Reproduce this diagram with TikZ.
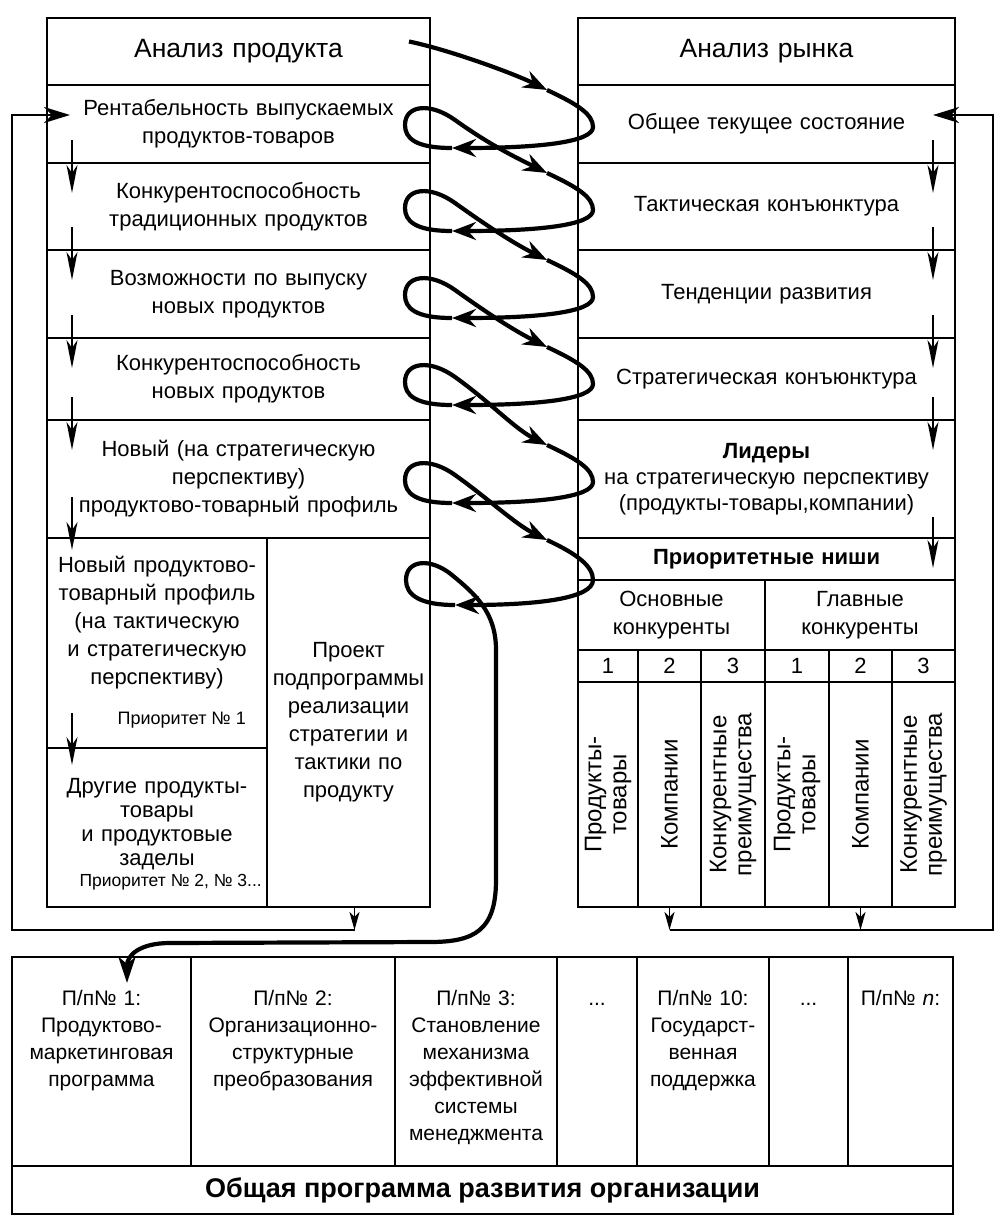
\documentclass[tikz,border=0pt]{standalone}
\usepackage{fontspec}
\setmainfont{Liberation Sans}
\usetikzlibrary{positioning,arrows.meta,calc}
\tikzset{
  cell/.style={draw=black, line width=2.4pt, outer sep=0pt, inner sep=1pt,
    align=center, font=\fontsize{22pt}{28pt}\selectfont},
  lcol/.style={cell, minimum width=383pt, text width=374pt},
  rcol/.style={cell, minimum width=377pt, text width=368pt},
  hd/.style={font=\fontsize{26.5pt}{30pt}\selectfont},
  txt/.style={inner sep=1pt, align=center, font=\fontsize{22pt}{28pt}\selectfont},
  prio/.style={inner sep=0pt, font=\fontsize{18pt}{20pt}\selectfont},
  rot/.style={inner sep=0pt, rotate=90, align=center, font=\fontsize{24pt}{25pt}\selectfont},
  ptxt/.style={inner sep=1pt, align=center, font=\fontsize{21pt}{27pt}\selectfont},
  coil/.style={line width=4.2pt, -{Stealth[length=24pt,width=18pt,inset=8pt]}},
  varr/.style={line width=1.8pt, -{Stealth[length=28pt,width=11pt,inset=8pt]}},
  jarr/.style={line width=1.8pt, -{Stealth[length=18pt,width=10pt,inset=5pt]}},
  fb/.style={line width=2.6pt, -{Stealth[length=26pt,width=16pt,inset=8pt]}},
}
\begin{document}
\begin{tikzpicture}[x=1pt, y=-1pt]
  \fill[white] (0,0) rectangle (1007,1228);
  \useasboundingbox (0,0) rectangle (1007,1228);
  % анализ продукта
  \node[lcol, hd, anchor=north west, minimum height=67pt] (pH) at (47,18) {Анализ продукта};
  \node[lcol, minimum height=78pt, below=0pt of pH] (p1) {Рентабельность выпускаемых\\продуктов-товаров};
  \node[lcol, minimum height=87pt, below=0pt of p1] (p2) {Конкурентоспособность\\традиционных продуктов};
  \node[lcol, minimum height=88pt, below=0pt of p2] (p3) {Возможности по выпуску\\новых продуктов};
  \node[lcol, minimum height=82pt, below=0pt of p3] (p4) {Конкурентоспособность\\новых продуктов};
  \node[lcol, minimum height=118pt, below=0pt of p4] (p5) {Новый (на стратегическую\\перспективу)\\продуктово-товарный профиль};
  \node[cell, anchor=north west, minimum width=220pt, minimum height=210pt] (q1) at (p5.south west) {};
  \node[cell, anchor=north west, minimum width=220pt, minimum height=159pt] (q2) at (q1.south west) {};
  \node[cell, anchor=north west, minimum width=163pt, minimum height=369pt, text width=158pt] (proj) at (q1.north east)
    {Проект\\подпрограммы\\реализации\\стратегии и\\тактики по\\продукту};
  \node[txt, text width=216pt, below=17pt of q1.north] (q1t)
    {Новый продуктово-\\товарный профиль\\(на тактическую\\и стратегическую\\перспективу)};
  \node[prio, anchor=base east] (pr1) at ([shift={(-21pt,24pt)}]q1.south east) {Приоритет № 1};
  \node[txt, text width=216pt, font=\fontsize{22pt}{24pt}\selectfont, below=29pt of q2.north] (q2t)
    {Другие продукты-\\товары\\и продуктовые\\заделы};
  \node[prio, font=\fontsize{17.5pt}{20pt}\selectfont, anchor=base east] (pr2) at ([shift={(-5pt,21pt)}]q2.south east)
    {Приоритет № 2, № 3...};
  % анализ рынка
  \node[rcol, hd, anchor=north west, minimum height=67pt] (mH) at (578,18) {Анализ рынка};
  \node[rcol, minimum height=78pt, below=0pt of mH] (m1) {Общее текущее состояние};
  \node[rcol, minimum height=87pt, below=0pt of m1] (m2) {Тактическая конъюнктура};
  \node[rcol, minimum height=88pt, below=0pt of m2] (m3) {Тенденции развития};
  \node[rcol, minimum height=82pt, below=0pt of m3] (m4) {Стратегическая конъюнктура};
  \node[rcol, minimum height=118pt, below=0pt of m4, font=\fontsize{22pt}{26pt}\selectfont] (m5)
    {\textbf{Лидеры}\\на стратегическую перспективу\\(продукты-товары,компании)};
  \node[rcol, minimum height=42pt, below=0pt of m5] (m6) {\textbf{Приоритетные ниши}};
  \node[cell, anchor=north west, minimum width=187pt, minimum height=70pt, text width=180pt] (k1) at (m6.south west) {Основные\\конкуренты};
  \node[cell, anchor=north west, minimum width=190pt, minimum height=70pt, text width=180pt] (k2) at (k1.north east) {Главные\\конкуренты};
  \node[cell, anchor=north west, minimum width=60pt, minimum height=32pt] (n1) at (k1.south west) {1};
  \node[cell, minimum width=63pt, minimum height=32pt, right=0pt of n1] (n2) {2};
  \node[cell, minimum width=64pt, minimum height=32pt, right=0pt of n2] (n3) {3};
  \node[cell, minimum width=64pt, minimum height=32pt, right=0pt of n3] (n4) {1};
  \node[cell, minimum width=63pt, minimum height=32pt, right=0pt of n4] (n5) {2};
  \node[cell, minimum width=63pt, minimum height=32pt, right=0pt of n5] (n6) {3};
  \node[cell, anchor=north west, minimum width=60pt, minimum height=225pt] (r1) at (n1.south west) {};
  \node[cell, anchor=north west, minimum width=63pt, minimum height=225pt] (r2) at (n2.south west) {};
  \node[cell, anchor=north west, minimum width=64pt, minimum height=225pt] (r3) at (n3.south west) {};
  \node[cell, anchor=north west, minimum width=64pt, minimum height=225pt] (r4) at (n4.south west) {};
  \node[cell, anchor=north west, minimum width=63pt, minimum height=225pt] (r5) at (n5.south west) {};
  \node[cell, anchor=north west, minimum width=63pt, minimum height=225pt] (r6) at (n6.south west) {};
  \node[rot] (r1t) at (r1) {Продукты-\\товары};
  \node[rot] (r2t) at (r2) {Компании};
  \node[rot] (r3t) at (r3) {Конкурентные\\преимущества};
  \node[rot] (r4t) at (r4) {Продукты-\\товары};
  \node[rot] (r5t) at (r5) {Компании};
  \node[rot] (r6t) at (r6) {Конкурентные\\преимущества};
  % подпрограммы
  \node[cell, anchor=north west, minimum width=179pt, minimum height=209pt] (b1) at (12,957) {};
  \node[cell, minimum width=204pt, minimum height=209pt, right=0pt of b1] (b2) {};
  \node[cell, minimum width=162pt, minimum height=209pt, right=0pt of b2] (b3) {};
  \node[cell, minimum width=80pt, minimum height=209pt, right=0pt of b3] (b4) {};
  \node[cell, minimum width=132pt, minimum height=209pt, right=0pt of b4] (b5) {};
  \node[cell, minimum width=79pt, minimum height=209pt, right=0pt of b5] (b6) {};
  \node[cell, minimum width=105pt, minimum height=209pt, right=0pt of b6] (b7) {};
  \node[cell, anchor=north west, minimum width=941pt, minimum height=48pt,
    font=\fontsize{27pt}{30pt}\selectfont\bfseries] (bt) at (b1.south west) {Общая программа развития организации};
  \node[ptxt, text width=175pt, below=32pt of b1.north] (b1t) {П/п№ 1:\\Продуктово-\\маркетинговая\\программа};
  \node[ptxt, text width=200pt, below=32pt of b2.north] (b2t) {П/п№ 2:\\Организационно-\\структурные\\преобразования};
  \node[ptxt, text width=158pt, below=32pt of b3.north] (b3t) {П/п№ 3:\\Становление\\механизма\\эффективной\\системы\\менеджмента};
  \node[ptxt, text width=76pt, text height=15pt, below=32pt of b4.north] (b4t) {...};
  \node[ptxt, text width=128pt, below=32pt of b5.north] (b5t) {П/п№ 10:\\Государст-\\венная\\поддержка};
  \node[ptxt, text width=75pt, text height=15pt, below=32pt of b6.north] (b6t) {...};
  \node[ptxt, text width=101pt, below=32pt of b7.north] (b7t) {П/п№ \textit{n}:};
  % стрелки внутри колонок
  \foreach \c in {p1,p2,p3,p4}
    \draw[varr] ([shift={(25pt,23pt)}]\c.south west) -- ([shift={(25pt,-30pt)}]\c.south west);
  \draw[varr] ([shift={(25pt,41pt)}]p5.south west) -- ([shift={(25pt,-12pt)}]p5.south west);
  \draw[varr] ([shift={(25pt,35pt)}]q1.south west) -- ([shift={(25pt,-17pt)}]q1.south west);
  \foreach \c in {m1,m2,m3,m4}
    \draw[varr] ([shift={(-22pt,23pt)}]\c.south east) -- ([shift={(-22pt,-30pt)}]\c.south east);
  \draw[varr] ([shift={(-22pt,21pt)}]m5.south east) -- ([shift={(-22pt,-30pt)}]m5.south east);
  % обратная связь
  \coordinate (jL) at ([shift={(6pt,-23pt)}]proj.south);
  \coordinate (jR2) at ([yshift=-23pt]r2.south);
  \coordinate (jR5) at ([yshift=-23pt]r5.south);
  \draw[jarr] ([xshift=6pt]proj.south) -- (jL);
  \draw[jarr] (r2.south) -- (jR2);
  \draw[jarr] (r5.south) -- (jR5);
  \draw[fb] (jL) -| ([shift={(-35pt,9pt)}]p1.west) -- ([shift={(23pt,9pt)}]p1.west);
  \draw[fb] (jR2) -| ([shift={(38pt,9pt)}]m1.east) -- ([shift={(-22pt,9pt)}]m1.east);
  % спираль
  \coordinate (cs) at ([shift={(-21pt,10pt)}]pH.east);
  \coordinate (ce) at ([shift={(25.5pt,-26pt)}]b1.north);
  \draw[coil] (cs) .. controls (450,50) and (515,74) .. (547,90);
  \foreach \a/\b in {90/173,173/260,260/347,347/445,445/540}{
    \draw[coil] (547,\a) .. controls (577,\a+14) and (593,\a+24) .. (593,\a+37)
      .. controls (593,\a+52) and (540,\a+58) .. (452,\a+58);
    \draw[coil] (452,\a+58) .. controls (415,\a+58) and (405,\a+48) .. (405,\a+35)
      .. controls (405,\a+15) and (430,\a+12) .. (455,\a+30)
      .. controls (490,\a+55) and (515,\b-16) .. (547,\b);
  }
  \draw[coil] (547,540) .. controls (577,554) and (593,566) .. (593,580)
    .. controls (593,598) and (540,605) .. (455,605);
  \draw[coil, -{Stealth[length=26pt,width=17pt,inset=7pt]}] (455,605) .. controls (420,605) and (406,595) .. (406,580)
    .. controls (406,560) and (430,557) .. (452,575) .. controls (475,594) and (496,612) .. (496,650)
    -- (496,880) .. controls (496,930) and (475,942) .. (430,942) -- (170,943)
    .. controls (140,943) and (127,955) .. (ce);
\end{tikzpicture}
\end{document}
